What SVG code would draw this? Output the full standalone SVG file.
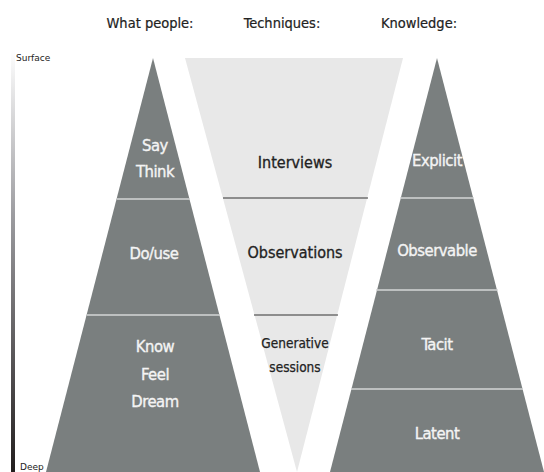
<svg xmlns="http://www.w3.org/2000/svg" width="544" height="472" viewBox="0 0 544 472">
  <style>
    text { font-family: "DejaVu Sans", "Liberation Sans", sans-serif; font-stretch: condensed; text-anchor: middle; }
    .hdr { font-size: 14.5px; fill: #222; stroke: #222; stroke-width: 0.2px; }
    .tri { fill: #7a7f7f; }
    .funnel { fill: #e8e8e8; }
    .light { font-size: 16.5px; letter-spacing: -0.5px; fill: #f4f4f4; stroke: #f4f4f4; stroke-width: 0.35px; }
    .dark { font-size: 16px; fill: #222; stroke: #222; stroke-width: 0.3px; }
    .dark-sm { font-size: 13.5px; fill: #222; stroke: #222; stroke-width: 0.25px; }
    .small { font-size: 9px; fill: #222; font-stretch: normal; text-anchor: start; }
    .sep-light { stroke: #d4d6d6; stroke-width: 1.5; }
    .sep-dark { stroke: #333; stroke-width: 1; }
  </style>
  <defs>
    <linearGradient id="depth" x1="0" y1="0" x2="0" y2="1">
      <stop offset="0" stop-color="#ffffff"/>
      <stop offset="0.4" stop-color="#9a9a9e"/>
      <stop offset="1" stop-color="#221e1e"/>
    </linearGradient>
  </defs>
  <rect width="544" height="472" fill="#ffffff"/>

  <!-- column headings -->
  <g id="headings">
    <text class="hdr" x="150" y="28">What people:</text>
    <text class="hdr" x="282" y="28">Techniques:</text>
    <text class="hdr" x="419" y="28">Knowledge:</text>
  </g>

  <!-- surface-to-deep scale -->
  <g id="scale">
    <rect x="11" y="50" width="4" height="422" fill="url(#depth)"/>
    <text class="small" x="16" y="61">Surface</text>
    <text class="small" x="20" y="470">Deep</text>
  </g>

  <!-- what people say / do / know -->
  <g id="people">
    <polygon class="tri" points="153,58 260,472 46,472"/>
    <line class="sep-light" x1="117" y1="199" x2="190" y2="199"/>
    <line class="sep-light" x1="87" y1="315" x2="220" y2="315"/>
    <text class="light" x="155" y="151">Say</text>
    <text class="light" x="155" y="177">Think</text>
    <text class="light" x="154" y="259">Do/use</text>
    <text class="light" x="155" y="352">Know</text>
    <text class="light" x="155" y="380">Feel</text>
    <text class="light" x="155" y="407">Dream</text>
  </g>

  <!-- research techniques funnel -->
  <g id="techniques">
    <polygon class="funnel" points="185,58 403,58 297,472"/>
    <line class="sep-dark" x1="223" y1="198" x2="368" y2="198"/>
    <line class="sep-dark" x1="254" y1="315" x2="338" y2="315"/>
    <text class="dark" x="295" y="168">Interviews</text>
    <text class="dark" x="295" y="258">Observations</text>
    <text class="dark-sm" x="295" y="348">Generative</text>
    <text class="dark-sm" x="295" y="372">sessions</text>
  </g>

  <!-- knowledge levels -->
  <g id="knowledge">
    <polygon class="tri" points="437,58 544,472 330,472"/>
    <line class="sep-light" x1="400" y1="198" x2="474" y2="198"/>
    <line class="sep-light" x1="376" y1="290" x2="498" y2="290"/>
    <line class="sep-light" x1="351" y1="389" x2="523" y2="389"/>
    <text class="light" x="437" y="166">Explicit</text>
    <text class="light" x="437" y="256">Observable</text>
    <text class="light" x="437" y="350">Tacit</text>
    <text class="light" x="437" y="439">Latent</text>
  </g>
</svg>
